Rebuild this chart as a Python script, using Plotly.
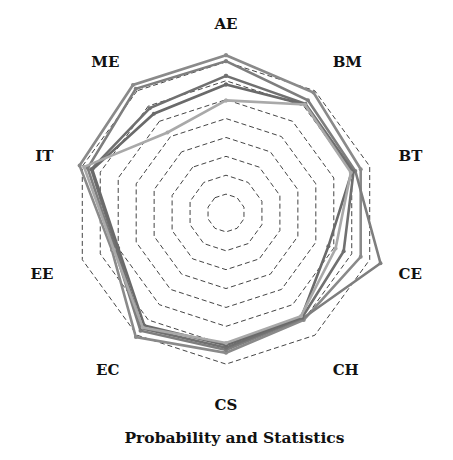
import plotly.graph_objects as go

categories = ["AE", "BM", "BT", "CE", "CH", "CS", "EC", "EE", "IT", "ME"]

series_1 = [83.5, 78.8, 75.0, 75.0, 70.0, 74.0, 81.2, 63.5, 81.5, 83.8]
series_2 = [80.4, 73.8, 72.0, 86.0, 69.0, 72.5, 77.0, 62.0, 77.0, 81.3]
series_3 = [72.6, 71.5, 71.0, 65.5, 68.5, 71.3, 75.5, 61.0, 75.0, 68.6]
series_4 = [68.0, 71.0, 70.0, 57.0, 68.0, 70.0, 73.6, 60.0, 74.4, 65.0]
series_5 = [59.6, 71.0, 69.5, 61.0, 67.5, 68.8, 75.0, 62.5, 79.0, 52.7]

ring_values = [10, 20, 30, 40, 50, 60, 70, 80, 90]

all_series = [series_1, series_2, series_3, series_4, series_5]
colors = ["#8a8a8a", "#7e7e7e", "#707070", "#6a6a6a", "#a9a9a9"]

fig = go.Figure()
for vals, col in zip(all_series, colors):
    fig.add_trace(go.Scatterpolar(
        r=vals + vals[:1],
        theta=categories + categories[:1],
        mode="lines+markers",
        line=dict(color=col, width=2.6),
        marker=dict(size=4, color=col),
        showlegend=False,
    ))

fig.update_layout(
    width=453, height=460,
    paper_bgcolor="white",
    plot_bgcolor="white",
    margin=dict(l=48, r=65, t=35, b=85),
    title=dict(
        text="Probability and Statistics",
        x=0.5, xanchor="center",
        y=0.067, yanchor="middle", yref="container",
        font=dict(family="DejaVu Serif", size=15.5, color="#111", weight="bold"),
    ),
    polar=dict(
        bgcolor="white",
        gridshape="linear",
        domain=dict(x=[0, 1], y=[0, 1]),
        radialaxis=dict(
            range=[0, 90],
            tickvals=ring_values,
            showticklabels=False,
            ticks="",
            showline=False,
            gridcolor="#444444",
            gridwidth=0.8,
            griddash="5px,3px",
        ),
        angularaxis=dict(
            rotation=90,
            direction="clockwise",
            showgrid=False,
            showline=False,
            ticks="outside",
            ticklen=8,
            tickcolor="rgba(0,0,0,0)",
            tickfont=dict(family="DejaVu Serif", size=15, color="#111", weight="bold"),
        ),
    ),
)

fig.write_html("out.html")
